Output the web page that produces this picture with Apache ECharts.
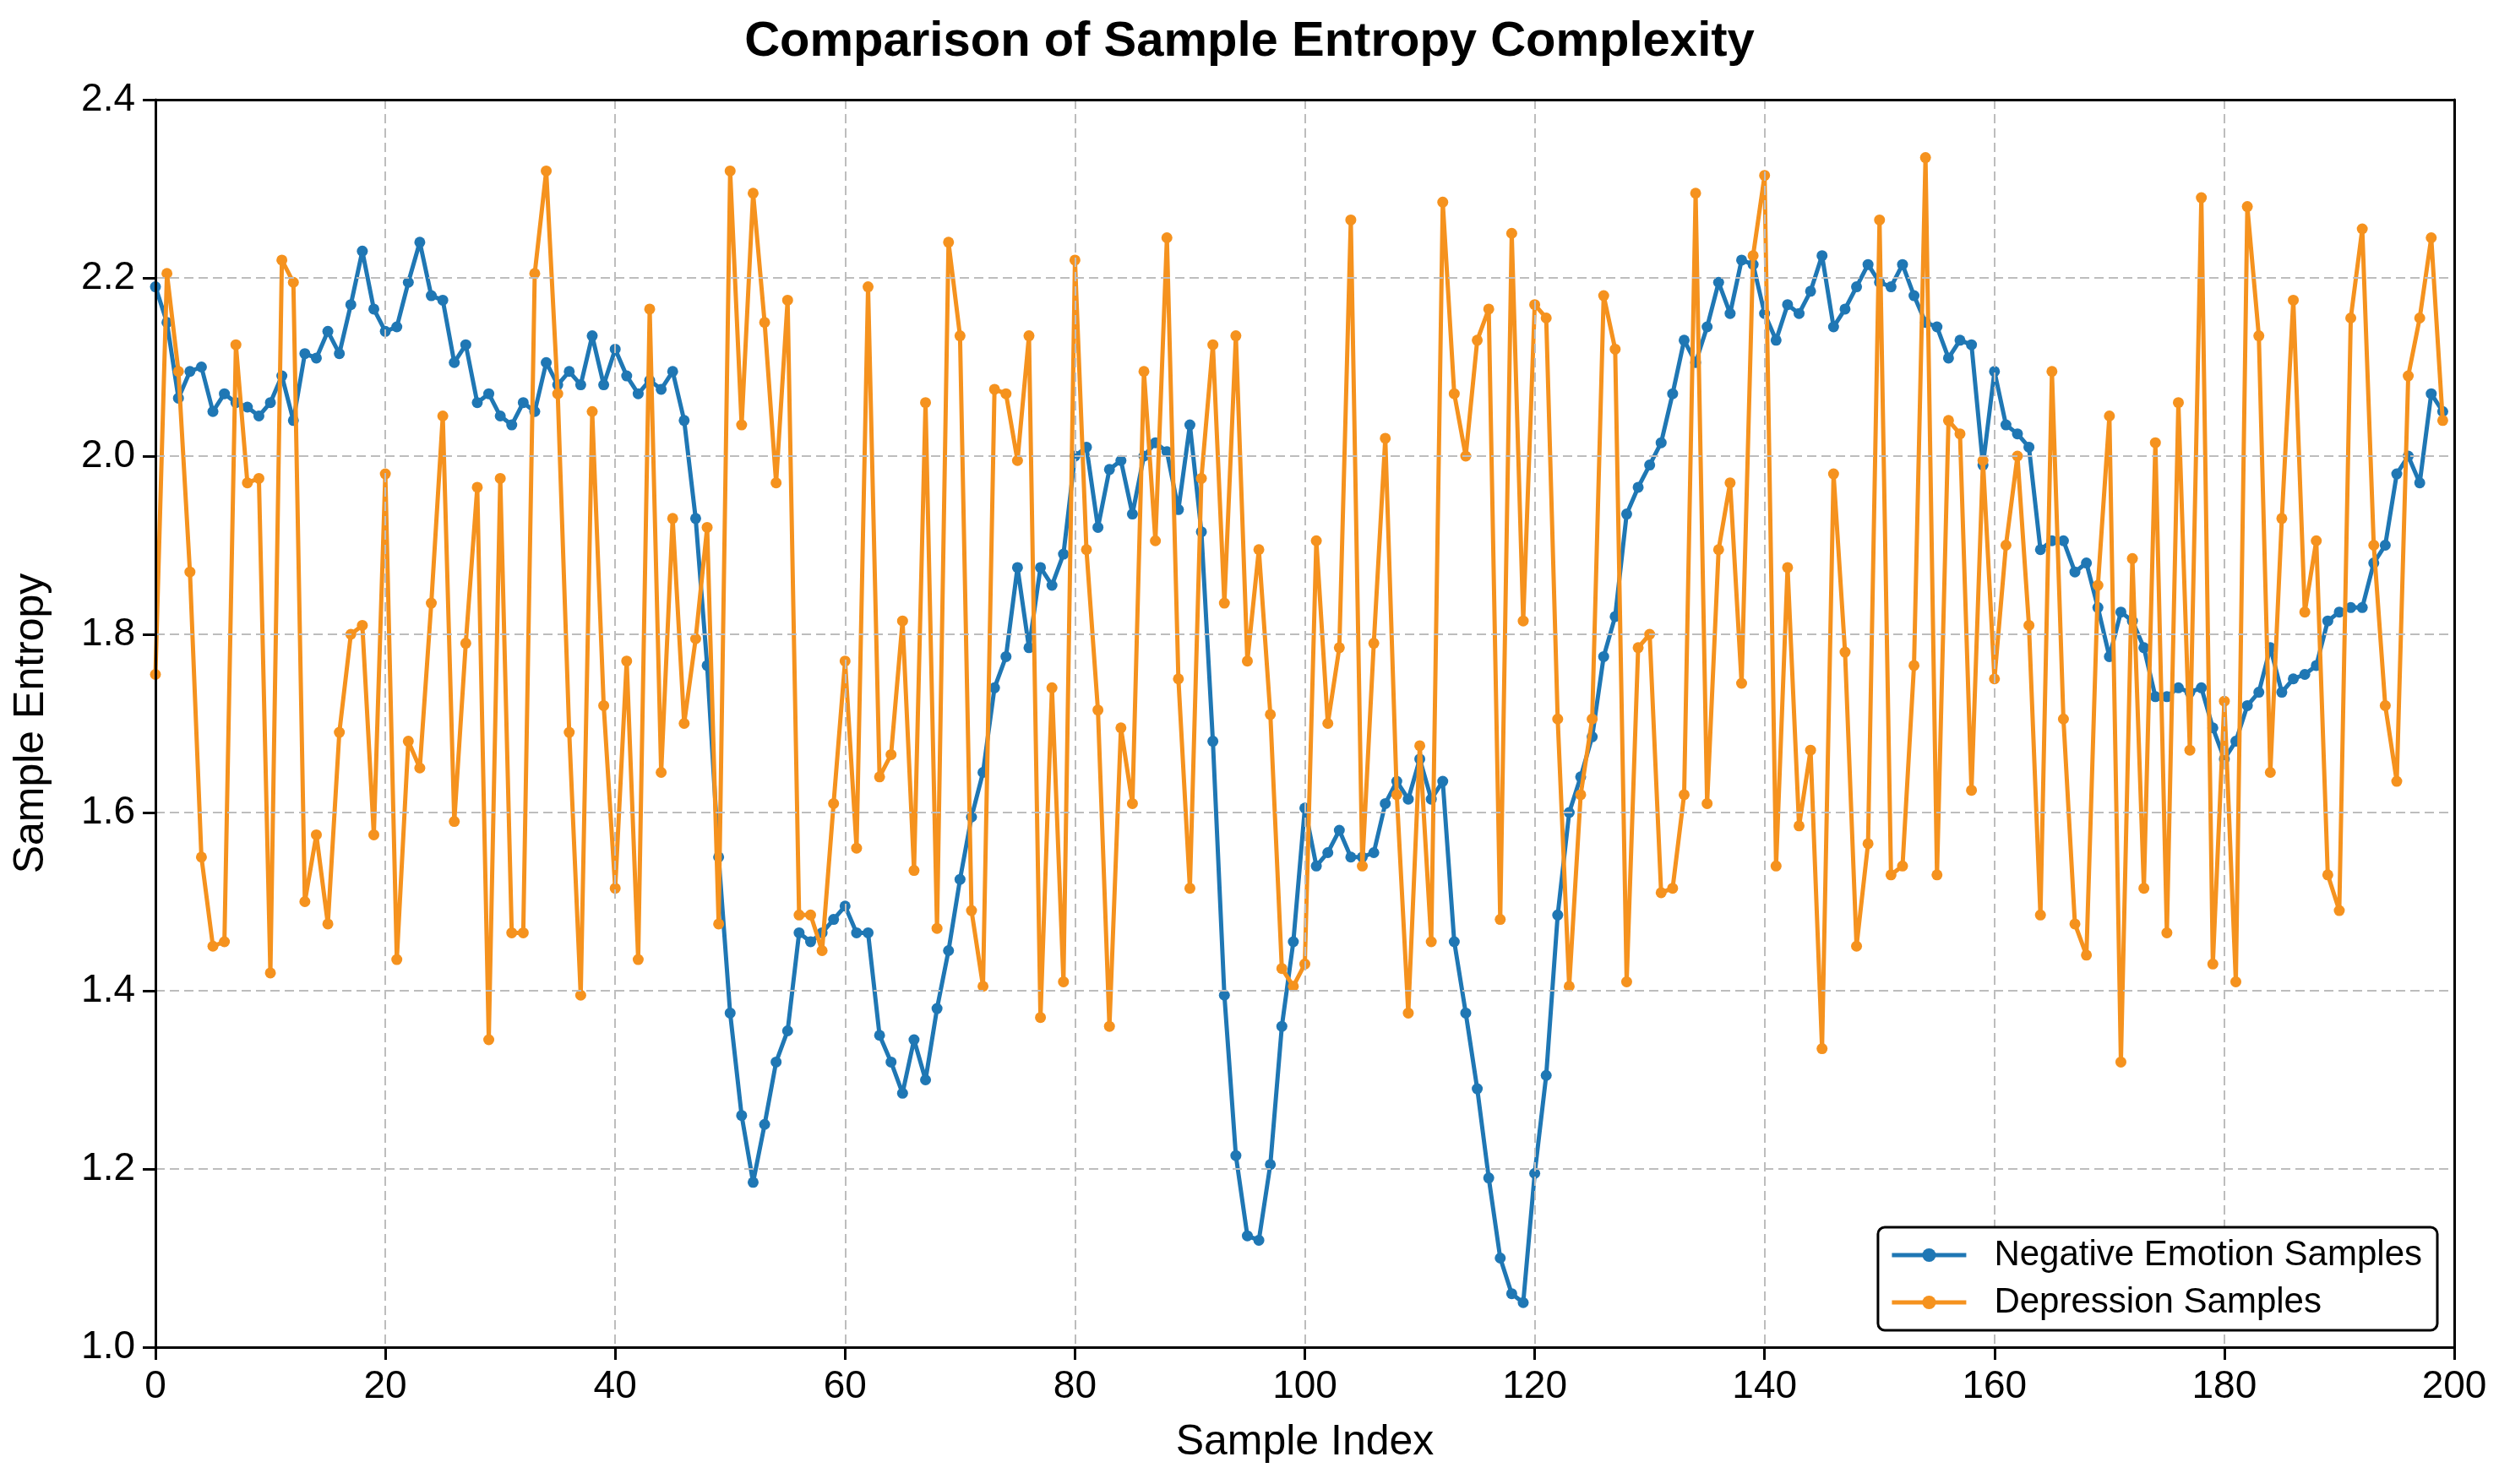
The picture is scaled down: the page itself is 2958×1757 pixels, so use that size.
<!DOCTYPE html>
<html>
<head>
<meta charset="utf-8">
<script src="https://cdn.jsdelivr.net/npm/echarts@6/dist/echarts.min.js"></script>
<style>
html,body{margin:0;padding:0;background:#fff;}
#chart{width:2958px;height:1757px;}
</style>
</head>
<body>
<div id="chart"></div>
<script>
const negativeEmotion = [
2.19,2.15,2.065,2.095,2.10,2.05,2.07,2.06,2.055,2.045,
2.06,2.09,2.04,2.115,2.11,2.14,2.115,2.17,2.23,2.165,
2.14,2.145,2.195,2.24,2.18,2.175,2.105,2.125,2.06,2.07,
2.045,2.035,2.06,2.05,2.105,2.08,2.095,2.08,2.135,2.08,
2.12,2.09,2.07,2.085,2.075,2.095,2.04,1.93,1.765,1.55,
1.375,1.26,1.185,1.25,1.32,1.355,1.465,1.455,1.465,1.48,
1.495,1.465,1.465,1.35,1.32,1.285,1.345,1.30,1.38,1.445,
1.525,1.595,1.645,1.74,1.775,1.875,1.785,1.875,1.855,1.89,
2.0,2.01,1.92,1.985,1.995,1.935,2.0,2.015,2.005,1.94,
2.035,1.915,1.68,1.395,1.215,1.125,1.12,1.205,1.36,1.455,
1.605,1.54,1.555,1.58,1.55,1.55,1.555,1.61,1.635,1.615,
1.66,1.615,1.635,1.455,1.375,1.29,1.19,1.10,1.06,1.05,
1.195,1.305,1.485,1.60,1.64,1.685,1.775,1.82,1.935,1.965,
1.99,2.015,2.07,2.13,2.105,2.145,2.195,2.16,2.22,2.215,
2.16,2.13,2.17,2.16,2.185,2.225,2.145,2.165,2.19,2.215,
2.195,2.19,2.215,2.18,2.15,2.145,2.11,2.13,2.125,1.99,
2.095,2.035,2.025,2.01,1.895,1.905,1.905,1.87,1.88,1.83,
1.775,1.825,1.815,1.785,1.73,1.73,1.74,1.735,1.74,1.695,
1.66,1.68,1.72,1.735,1.785,1.735,1.75,1.755,1.765,1.815,
1.825,1.83,1.83,1.88,1.90,1.98,2.0,1.97,2.07,2.05
];
const depression = [
1.755,2.205,2.095,1.87,1.55,1.45,1.455,2.125,1.97,1.975,
1.42,2.22,2.195,1.50,1.575,1.475,1.69,1.80,1.81,1.575,
1.98,1.435,1.68,1.65,1.835,2.045,1.59,1.79,1.965,1.345,
1.975,1.465,1.465,2.205,2.32,2.07,1.69,1.395,2.05,1.72,
1.515,1.77,1.435,2.165,1.645,1.93,1.70,1.795,1.92,1.475,
2.32,2.035,2.295,2.15,1.97,2.175,1.485,1.485,1.445,1.61,
1.77,1.56,2.19,1.64,1.665,1.815,1.535,2.06,1.47,2.24,
2.135,1.49,1.405,2.075,2.07,1.995,2.135,1.37,1.74,1.41,
2.22,1.895,1.715,1.36,1.695,1.61,2.095,1.905,2.245,1.75,
1.515,1.975,2.125,1.835,2.135,1.77,1.895,1.71,1.425,1.405,
1.43,1.905,1.70,1.785,2.265,1.54,1.79,2.02,1.62,1.375,
1.675,1.455,2.285,2.07,2.0,2.13,2.165,1.48,2.25,1.815,
2.17,2.155,1.705,1.405,1.62,1.705,2.18,2.12,1.41,1.785,
1.80,1.51,1.515,1.62,2.295,1.61,1.895,1.97,1.745,2.225,
2.315,1.54,1.875,1.585,1.67,1.335,1.98,1.78,1.45,1.565,
2.265,1.53,1.54,1.765,2.335,1.53,2.04,2.025,1.625,1.995,
1.75,1.90,2.0,1.81,1.485,2.095,1.705,1.475,1.44,1.855,
2.045,1.32,1.885,1.515,2.015,1.465,2.06,1.67,2.29,1.43,
1.725,1.41,2.28,2.135,1.645,1.93,2.175,1.825,1.905,1.53,
1.49,2.155,2.255,1.90,1.72,1.635,2.09,2.155,2.245,2.04
];
const seriesNames = ['Negative Emotion Samples', 'Depression Samples'];
const xTicks = [0, 20, 40, 60, 80, 100, 120, 140, 160, 180, 200];
const yTicks = [1.0, 1.2, 1.4, 1.6, 1.8, 2.0, 2.2, 2.4];

const FONT = '"Liberation Sans", Arial, Helvetica, sans-serif';
const BLUE = '#1f77b4';
const ORANGE = '#f5921e';

const toPairs = arr => arr.map((v, i) => [i, v]);

const chart = echarts.init(document.getElementById('chart'), null, {renderer: 'canvas'});
const gridLine = {show: true, lineStyle: {color: '#bdbdbd', width: 2, type: [11, 6]}};
const frameAxis = {
  axisLine: {show: true, onZero: false, lineStyle: {color: '#000', width: 3}},
  axisTick: {show: false}, axisLabel: {show: false}, splitLine: {show: false}
};
const xMin = xTicks[0], xMax = xTicks[xTicks.length - 1];
const yMin = yTicks[0], yMax = yTicks[yTicks.length - 1];

chart.setOption({
  backgroundColor: '#ffffff',
  animation: false,
  title: {
    text: 'Comparison of Sample Entropy Complexity',
    left: 'center', top: 16,
    textStyle: {fontFamily: FONT, fontWeight: 'bold', fontSize: 58, color: '#000'}
  },
  grid: {left: 184, right: 53, top: 118, bottom: 162},
  xAxis: [{
    type: 'value', min: xMin, max: xMax, interval: 20,
    name: 'Sample Index', nameLocation: 'middle', nameGap: 88,
    nameTextStyle: {fontFamily: FONT, fontSize: 50, color: '#000'},
    axisLine: {show: true, onZero: false, lineStyle: {color: '#000', width: 3}},
    axisTick: {show: true, length: 15, lineStyle: {color: '#000', width: 3}},
    axisLabel: {fontFamily: FONT, fontSize: 46, color: '#000', margin: 24},
    splitLine: gridLine, z: 5
  }, Object.assign({type: 'value', position: 'top', min: xMin, max: xMax, z: 5}, frameAxis)],
  yAxis: [{
    type: 'value', min: yMin, max: yMax, interval: 0.2,
    name: 'Sample Entropy', nameLocation: 'middle', nameGap: 122,
    nameTextStyle: {fontFamily: FONT, fontSize: 50, color: '#000'},
    axisLine: {show: true, onZero: false, lineStyle: {color: '#000', width: 3}},
    axisTick: {show: true, length: 15, lineStyle: {color: '#000', width: 3}},
    axisLabel: {fontFamily: FONT, fontSize: 46, color: '#000', margin: 24, formatter: v => v.toFixed(1)},
    splitLine: gridLine, z: 5
  }, Object.assign({type: 'value', position: 'right', min: yMin, max: yMax, z: 5}, frameAxis)],
  legend: {
    orient: 'vertical', right: 73, bottom: 182,
    data: seriesNames,
    itemWidth: 88, itemHeight: 20, itemGap: 14,
    padding: [12, 18, 12, 14],
    borderColor: '#000', borderWidth: 3, borderRadius: 8, backgroundColor: '#fff',
    lineStyle: {width: 5},
    textStyle: {fontFamily: FONT, fontSize: 42, color: '#000', padding: [0, 0, 0, 28]},
    z: 10
  },
  series: [
    {
      name: seriesNames[0], type: 'line', data: toPairs(negativeEmotion),
      xAxisIndex: 0, yAxisIndex: 0,
      symbol: 'circle', symbolSize: 13, showSymbol: true,
      lineStyle: {color: BLUE, width: 5}, itemStyle: {color: BLUE},
      z: 3
    },
    {
      name: seriesNames[1], type: 'line', data: toPairs(depression),
      xAxisIndex: 0, yAxisIndex: 0,
      symbol: 'circle', symbolSize: 13, showSymbol: true,
      lineStyle: {color: ORANGE, width: 5}, itemStyle: {color: ORANGE},
      z: 4
    }
  ]
});
</script>
</body>
</html>
